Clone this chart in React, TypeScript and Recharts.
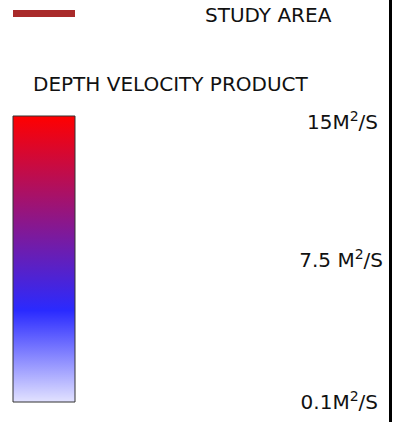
import React from 'react';
import { ComposedChart, Bar, XAxis, YAxis } from 'recharts';

// legend scale data
const categories = ['Depth velocity product'];
const lowValues = [0.1];
const highValues = [15];
const tickValues = [0.1, 7.5, 15];
const tickNumbers = ['0.1', '7.5 ', '15'];

const data = categories.map((name, i) => ({ name, range: [lowValues[i], highValues[i]] }));

const FONT = '"DejaVu Sans", Verdana, sans-serif';

const ScaleTick = ({ y, payload, index }: any) => {
  const i = tickValues.indexOf(payload.value);
  // top label sits a little below the bar edge in the original, middle one sticks out right
  const nudge = i === tickValues.length - 1 ? 6 : 0;
  const shift = i === 1 ? 5 : 0;
  return (
    <text x={378 + shift} y={y + nudge} dy={7} textAnchor="end" fontFamily={FONT} fontSize={20} fill="#111">
      {tickNumbers[i] ?? index}M
      <tspan fontSize={14} dy={-8}>2</tspan>
      <tspan dy={8}>/S</tspan>
    </text>
  );
};

export default function App() {
  return (
    <div style={{ position: 'absolute', left: 0, top: 0, width: 406, height: 422, background: '#fff', fontFamily: FONT }}>
      <div style={{ position: 'absolute', left: 13, top: 10, width: 62, height: 7, background: '#a92a2a' }} />
      <div style={{ position: 'absolute', left: 205, top: 3, fontSize: 20, color: '#111', whiteSpace: 'nowrap' }}>STUDY AREA</div>
      <div style={{ position: 'absolute', left: 33, top: 72, fontSize: 20, color: '#111', whiteSpace: 'nowrap' }}>DEPTH VELOCITY PRODUCT</div>
      <div style={{ position: 'absolute', left: 389, top: 0, width: 3, height: 422, background: '#000' }} />
      <div style={{ position: 'absolute', left: 0, top: 0 }}>
        <ComposedChart
          width={406}
          height={422}
          data={data}
          margin={{ top: 116, right: 31, bottom: 20, left: 13 }}
          barCategoryGap={0}
        >
          <defs>
            <linearGradient id="dvpGrad" x1="0" y1="0" x2="0" y2="1">
              <stop offset="0%" stopColor="#ff0000" />
              <stop offset="68%" stopColor="#2a2aff" />
              <stop offset="100%" stopColor="#e2e2ff" />
            </linearGradient>
          </defs>
          <XAxis dataKey="name" hide />
          <YAxis
            orientation="right"
            width={300}
            type="number"
            domain={[0.1, 15]}
            ticks={tickValues}
            axisLine={false}
            tickLine={false}
            tick={<ScaleTick />}
            interval={0}
          />
          <Bar dataKey="range" fill="url(#dvpGrad)" stroke="#333" strokeWidth={1} isAnimationActive={false} />
        </ComposedChart>
      </div>
    </div>
  );
}
